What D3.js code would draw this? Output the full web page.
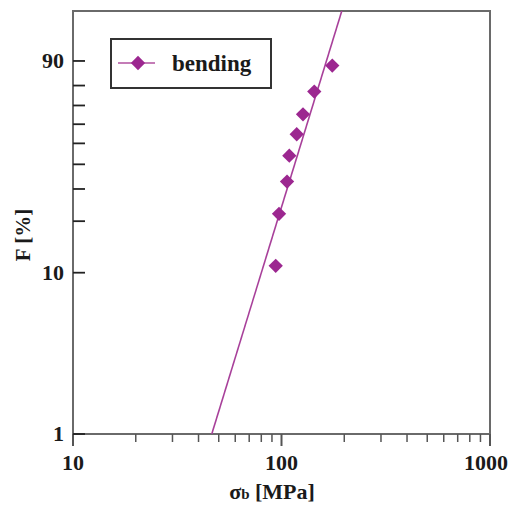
<!DOCTYPE html>
<html>
<head>
<meta charset="utf-8">
<script src="https://cdn.jsdelivr.net/npm/d3@7"></script>
<style>
  body { margin: 0; background: #fff; }
  svg text { font-family: 'Liberation Serif', Tinos, 'Times New Roman', Times, 'DejaVu Serif', serif; font-weight: bold; fill: #1a1a1a; }
</style>
</head>
<body>
<div id="chart"></div>
<script>
// measured points (bending test)
var stress      =   [93.8, 97.3, 106.3, 109.0, 118.3, 126.8, 143.6, 175.2];
var probability =   [11.0, 22.0, 32.8, 44.0, 54.7, 65.3, 77.1, 88.4];

// fitted Weibull line, ends in data units
var fitStress   =   [46.3, 194.6];
var fitProb     =   [1, 99.15];

var yMajor      =   [1, 10, 90];
var yMinor      =   [20, 30, 40, 50, 60, 70, 80];
var xMajor      =   [10, 100, 1000];
var xMinor      =   [20, 30, 40, 50, 60, 70, 80, 90, 200, 300, 400, 500, 600, 700, 800, 900];

var chart_width     =   509;
var chart_height    =   508;
var margin  = { top: 11, right: 19, bottom: 74, left: 73 };
var purple  = '#9c2790';

// Weibull probability transform ln(-ln(1-F))
function wb( f ){
    return Math.log( -Math.log( 1 - f / 100 ) );
}

var svg = d3.select( '#chart' )
    .append( 'svg' )
    .attr( 'width', chart_width )
    .attr( 'height', chart_height );

var x_scale = d3.scaleLog()
    .domain([10, 1000])
    .range([margin.left, chart_width - margin.right]);

var y_scale = d3.scaleLinear()
    .domain([wb(1), wb(99.15)])
    .range([chart_height - margin.bottom, margin.top]);

var x0 = x_scale.range()[0], x1 = x_scale.range()[1];
var y0 = y_scale.range()[0], y1 = y_scale.range()[1];

svg.append( 'clipPath' ).attr( 'id', 'plot' )
    .append( 'rect' )
    .attr( 'x', x0 ).attr( 'y', y1 )
    .attr( 'width', x1 - x0 ).attr( 'height', y0 - y1 );

// frame
svg.append( 'rect' )
    .attr( 'x', x0 ).attr( 'y', y1 )
    .attr( 'width', x1 - x0 ).attr( 'height', y0 - y1 )
    .attr( 'fill', 'none' )
    .attr( 'stroke', '#6a6a6a' )
    .attr( 'stroke-width', 2 );

// x ticks point down, below the axis
svg.selectAll( '.xmaj' )
    .data( xMajor ).enter().append( 'line' )
    .attr( 'x1', d => x_scale(d) ).attr( 'x2', d => x_scale(d) )
    .attr( 'y1', y0 ).attr( 'y2', y0 + 12 )
    .attr( 'stroke', '#555' ).attr( 'stroke-width', 2 );

svg.selectAll( '.xmin' )
    .data( xMinor ).enter().append( 'line' )
    .attr( 'x1', d => x_scale(d) ).attr( 'x2', d => x_scale(d) )
    .attr( 'y1', y0 ).attr( 'y2', y0 + 8 )
    .attr( 'stroke', '#555' ).attr( 'stroke-width', 1.5 );

svg.selectAll( '.xlab' )
    .data( xMajor ).enter().append( 'text' )
    .text( d => d )
    .attr( 'x', (d, i) => i == xMajor.length - 1 ? chart_width - 1 : x_scale(d) )
    .attr( 'y', 470 )
    .attr( 'text-anchor', (d, i) => i == xMajor.length - 1 ? 'end' : 'middle' )
    .attr( 'font-size', 22 );

// y ticks point inward
svg.selectAll( '.ytick' )
    .data( yMajor.concat( yMinor ) ).enter().append( 'line' )
    .attr( 'x1', x0 ).attr( 'x2', x0 + 12 )
    .attr( 'y1', d => y_scale( wb(d) ) ).attr( 'y2', d => y_scale( wb(d) ) )
    .attr( 'stroke', '#222' ).attr( 'stroke-width', 1.8 );

svg.selectAll( '.ylab' )
    .data( yMajor ).enter().append( 'text' )
    .text( d => d )
    .attr( 'x', 64 )
    .attr( 'y', d => y_scale( wb(d) ) + 7 )
    .attr( 'text-anchor', 'end' )
    .attr( 'font-size', 22 );

// axis titles
svg.append( 'text' )
    .attr( 'transform', 'translate(30,235) rotate(-90)' )
    .attr( 'text-anchor', 'middle' )
    .attr( 'font-size', 21 )
    .text( 'F [%]' );

var xt = svg.append( 'text' )
    .attr( 'x', 272 ).attr( 'y', 499 )
    .attr( 'text-anchor', 'middle' )
    .attr( 'font-size', 22 );
xt.append( 'tspan' ).text( 'σ' );
xt.append( 'tspan' ).attr( 'font-size', 15 ).text( 'b' );
xt.append( 'tspan' ).text( ' [MPa]' );

// fit line
var line = d3.line()
    .x( d => x_scale( d[0] ) )
    .y( d => y_scale( wb( d[1] ) ) );

svg.append( 'path' )
    .datum( d3.zip( fitStress, fitProb ) )
    .attr( 'd', line )
    .attr( 'clip-path', 'url(#plot)' )
    .attr( 'fill', 'none' )
    .attr( 'stroke', '#a8409a' )
    .attr( 'stroke-width', 1.6 );

// markers
var diamond = d3.symbol().type( d3.symbolDiamond2 ).size( 130 );

svg.selectAll( '.pt' )
    .data( d3.zip( stress, probability ) ).enter().append( 'path' )
    .attr( 'd', diamond )
    .attr( 'transform', d => 'translate(' + x_scale( d[0] ) + ',' + y_scale( wb( d[1] ) ) + ')' )
    .attr( 'fill', purple );

// legend
var lg = svg.append( 'g' ).attr( 'transform', 'translate(111,39)' );
lg.append( 'rect' )
    .attr( 'width', 160 ).attr( 'height', 49 )
    .attr( 'fill', '#fff' )
    .attr( 'stroke', '#333' ).attr( 'stroke-width', 2 );
lg.append( 'line' )
    .attr( 'x1', 7 ).attr( 'x2', 44 )
    .attr( 'y1', 24 ).attr( 'y2', 24 )
    .attr( 'stroke', '#b0509f' ).attr( 'stroke-width', 1.6 );
lg.append( 'path' )
    .attr( 'd', diamond )
    .attr( 'transform', 'translate(27,24)' )
    .attr( 'fill', purple );
lg.append( 'text' )
    .attr( 'x', 61 ).attr( 'y', 32 )
    .attr( 'font-size', 23 )
    .text( 'bending' );
</script>
</body>
</html>
